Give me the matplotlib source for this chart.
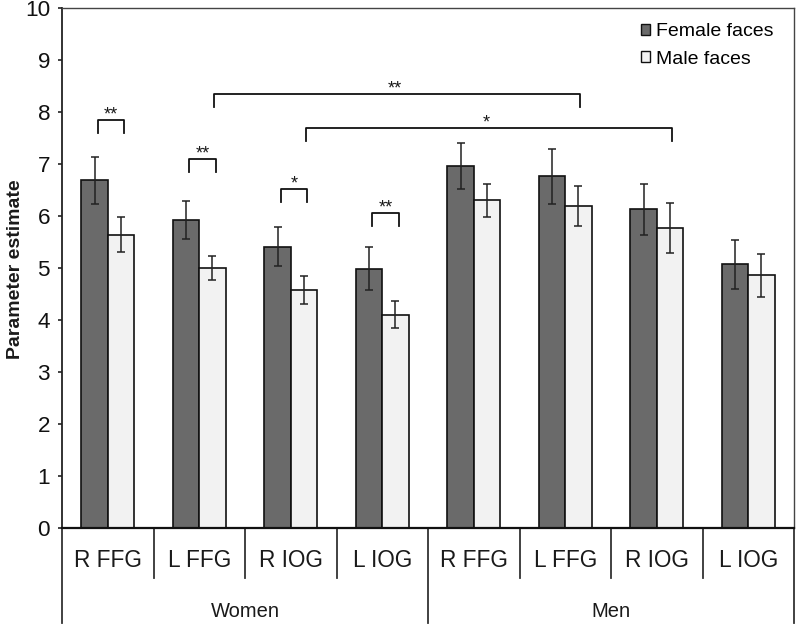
import matplotlib
matplotlib.use('Agg')
import matplotlib.pyplot as plt
from matplotlib.patches import Patch

plt.rcParams['font.family'] = ['Liberation Sans', 'DejaVu Sans']

categories = ['R FFG', 'L FFG', 'R IOG', 'L IOG', 'R FFG', 'L FFG', 'R IOG', 'L IOG']
groups = ['Women', 'Men']
series_labels = ['Female faces', 'Male faces']
female = [6.69, 5.92, 5.41, 4.99, 6.96, 6.76, 6.13, 5.07]
female_err = [0.45, 0.37, 0.375, 0.41, 0.45, 0.53, 0.49, 0.47]
male = [5.64, 5.00, 4.58, 4.10, 6.30, 6.19, 5.77, 4.86]
male_err = [0.34, 0.23, 0.27, 0.26, 0.32, 0.39, 0.48, 0.41]
yticks = list(range(0, 11))

# within-category significance: (category index, bracket level, label)
within_sig = [(0, 7.84, '**'), (1, 7.09, '**'), (2, 6.51, '*'), (3, 6.05, '**')]
# between-category significance on male-face bars: (cat a, cat b, level, label)
between_sig = [(1, 5, 8.34, '**'), (2, 6, 7.69, '*')]

dark = '#6a6a6a'
light = '#f2f2f2'
edge = '#111111'
txt = '#1a1a1a'

fig = plt.figure(figsize=(8, 6.3), dpi=100)
ax = fig.add_axes([62/800, 1 - 528/630, 732/800, 520/630])

w = 0.288
x = list(range(len(categories)))
xd = [i - w/2 for i in x]
xl = [i + w/2 for i in x]

ax.bar(xd, female, width=w, color=dark, edgecolor=edge, linewidth=1.2, zorder=2)
ax.bar(xl, male, width=w, color=light, edgecolor=edge, linewidth=1.2, zorder=2)
ax.errorbar(xd, female, yerr=female_err, fmt='none', ecolor='#222222',
            elinewidth=1.1, capsize=2.6, capthick=1.1, zorder=3)
ax.errorbar(xl, male, yerr=male_err, fmt='none', ecolor='#222222',
            elinewidth=1.1, capsize=2.6, capthick=1.1, zorder=3)

tick_h = 0.25
off = 0.035
for i, lvl, lab in within_sig:
    x1 = i - w/2 + off
    x2 = i + w/2 + off
    ax.plot([x1, x1, x2, x2], [lvl - tick_h, lvl, lvl, lvl - tick_h],
            color='#111111', lw=1.3, zorder=4)
    ax.annotate(lab, xy=((x1 + x2)/2, lvl), xytext=(0, 0.8),
                textcoords='offset points', ha='center', va='baseline',
                fontsize=13, color=txt)
for a, b, lvl, lab in between_sig:
    x1 = a + w/2 + 0.02
    x2 = b + w/2 + 0.02
    ax.plot([x1, x1, x2, x2], [lvl - tick_h, lvl, lvl, lvl - tick_h],
            color='#111111', lw=1.3, zorder=4)
    ax.annotate(lab, xy=((x1 + x2)/2 - 0.03, lvl), xytext=(0, 0.8),
                textcoords='offset points', ha='center', va='baseline',
                fontsize=13, color=txt)

ax.set_xlim(-0.5, len(categories) - 0.5)
ax.set_ylim(0, 10)
ax.set_yticks(yticks)
ax.set_yticklabels([str(t) for t in yticks])
ax.set_xticks([])
ax.tick_params(axis='y', direction='out', length=3, width=1.1, pad=5.5,
               labelsize=16.2, colors='#111111')

for s in ['top', 'right']:
    ax.spines[s].set_color('#444444')
    ax.spines[s].set_linewidth(1.0)
ax.spines['left'].set_color('#222222')
ax.spines['left'].set_linewidth(1.3)
ax.spines['bottom'].set_color('#111111')
ax.spines['bottom'].set_linewidth(1.6)

trans = ax.get_xaxis_transform()
n = len(categories)
bounds = [i - 0.5 for i in range(n + 1)]
for k, bnd in enumerate(bounds):
    ymin = -0.1827 if k in (0, n // 2, n) else -0.0967
    ax.plot([bnd, bnd], [0, ymin], transform=trans, clip_on=False,
            color='#333333', lw=1.3)

for i, cat in enumerate(categories):
    ax.text(i, -0.0744, cat, transform=trans, ha='center', va='baseline',
            fontsize=16.3, color=txt)
for g, name in enumerate(groups):
    ax.text(g * (n // 2) + (n // 2 - 1) / 2, -0.1706, name, transform=trans,
            ha='center', va='baseline', fontsize=14.5, color=txt)

fig.text(16/800, 1 - 269/630, 'Parameter estimate', rotation=90,
         ha='center', va='center', fontsize=14, fontweight='bold', color=txt)

handles = [Patch(facecolor=dark, edgecolor=edge, linewidth=1.0),
           Patch(facecolor=light, edgecolor=edge, linewidth=1.0)]
ax.legend(handles, series_labels, loc='upper left',
          bbox_to_anchor=(641/800, 1 - 23/630), bbox_transform=fig.transFigure,
          frameon=False, borderpad=0, handlelength=0.48, handleheight=0.48,
          handletextpad=0.3, labelspacing=0.55, fontsize=14, borderaxespad=0)

fig.savefig('out.png', dpi=100)
